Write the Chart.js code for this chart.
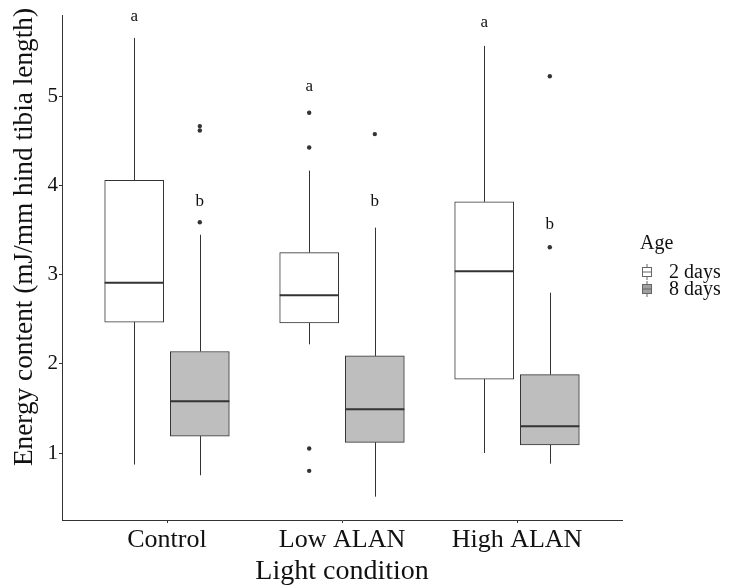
<!DOCTYPE html>
<html><head><meta charset="utf-8">
<script src="https://cdn.jsdelivr.net/npm/chart.js@4"></script>
<style>html,body{margin:0;padding:0;background:#fff}#wrap{width:732px;height:586px;position:relative}</style>
</head><body><div id="wrap"><canvas id="c" width="732" height="586"></canvas></div>
<script>
const categories = ['Control', 'Low ALAN', 'High ALAN'];
const ages = ['2 days', '8 days'];
const yTicks = [1, 2, 3, 4, 5];
const yTitle = 'Energy content (mJ/mm hind tibia length)';
const xTitle = 'Light condition';
const legendTitle = 'Age';

// Age: 2 days
const q1_2 = [2.47, 2.46, 1.83];
const median_2 = [2.91, 2.77, 3.04];
const q3_2 = [4.06, 3.25, 3.82];
const whiskerLow_2 = [0.87, 2.22, 1.00];
const whiskerHigh_2 = [5.66, 4.17, 5.57];
const outliers_2 = [[], [4.82, 4.43, 1.05, 0.80], []];
const letters_2 = ['a', 'a', 'a'];
const letterY_2 = [5.90, 5.11, 5.83];

// Age: 8 days
const q1_8 = [1.19, 1.12, 1.09];
const median_8 = [1.58, 1.49, 1.30];
const q3_8 = [2.14, 2.09, 1.88];
const whiskerLow_8 = [0.75, 0.51, 0.88];
const whiskerHigh_8 = [3.45, 3.53, 2.80];
const outliers_8 = [[4.67, 4.62, 3.59], [4.58], [5.23, 3.31]];
const letters_8 = ['b', 'b', 'b'];
const letterY_8 = [3.82, 3.82, 3.56];

const FONT = "'Liberation Serif', 'DejaVu Serif', serif";
const LINE = '#333333';
const FILL = ['#ffffff', '#bebebe'];
const DODGE = 0.1875;
const BOXW = 59;

const groups = [
  {q1: q1_2, med: median_2, q3: q3_2, lo: whiskerLow_2, hi: whiskerHigh_2, out: outliers_2, let: letters_2, letY: letterY_2, off: -DODGE},
  {q1: q1_8, med: median_8, q3: q3_8, lo: whiskerLow_8, hi: whiskerHigh_8, out: outliers_8, let: letters_8, letY: letterY_8, off: DODGE}
];

const datasets = [];
groups.forEach((g, gi) => {
  datasets.push({
    type: 'bar',
    label: ages[gi],
    data: categories.map((c, i) => ({x: i + 1 + g.off, y: [g.q1[i], g.q3[i]]})),
    backgroundColor: FILL[gi],
    borderColor: LINE,
    borderWidth: 1,
    borderSkipped: false,
    grouped: false,
    barThickness: BOXW,
    order: 2
  });
});
groups.forEach((g, gi) => {
  const pts = [];
  g.out.forEach((arr, i) => arr.forEach(v => pts.push({x: i + 1 + g.off, y: v})));
  datasets.push({
    type: 'scatter',
    label: ages[gi] + ' outliers',
    data: pts,
    pointRadius: 2.2,
    pointBackgroundColor: LINE,
    pointBorderWidth: 0,
    order: 1
  });
});

const boxPlugin = {
  id: 'boxParts',
  beforeDatasetsDraw(chart) {
    const ctx = chart.ctx, xs = chart.scales.x, ys = chart.scales.y;
    ctx.save();
    ctx.strokeStyle = LINE;
    ctx.lineWidth = 1;
    groups.forEach(g => {
      categories.forEach((c, i) => {
        const x = Math.round(xs.getPixelForValue(i + 1 + g.off)) + 0.5;
        ctx.beginPath();
        ctx.moveTo(x, ys.getPixelForValue(g.q3[i]));
        ctx.lineTo(x, ys.getPixelForValue(g.hi[i]));
        ctx.moveTo(x, ys.getPixelForValue(g.q1[i]));
        ctx.lineTo(x, ys.getPixelForValue(g.lo[i]));
        ctx.stroke();
      });
    });
    ctx.restore();
  },
  afterDatasetsDraw(chart) {
    const ctx = chart.ctx, xs = chart.scales.x, ys = chart.scales.y;
    ctx.save();
    ctx.strokeStyle = LINE;
    ctx.lineWidth = 2;
    const half = BOXW / 2;
    groups.forEach(g => {
      categories.forEach((c, i) => {
        const x = xs.getPixelForValue(i + 1 + g.off);
        const y = ys.getPixelForValue(g.med[i]);
        ctx.beginPath();
        ctx.moveTo(x - half, y);
        ctx.lineTo(x + half, y);
        ctx.stroke();
      });
    });
    // significance letters
    ctx.fillStyle = '#111';
    ctx.font = '17px ' + FONT;
    ctx.textAlign = 'center';
    ctx.textBaseline = 'middle';
    groups.forEach(g => {
      categories.forEach((c, i) => {
        ctx.fillText(g.let[i], xs.getPixelForValue(i + 1 + g.off), ys.getPixelForValue(g.letY[i]));
      });
    });
    // y axis title
    ctx.save();
    ctx.translate(25, 237);
    ctx.rotate(-Math.PI / 2);
    ctx.font = '27.3px ' + FONT;
    ctx.fillStyle = '#111';
    ctx.fillText(yTitle, 0, 0);
    ctx.restore();
    // legend
    ctx.textAlign = 'left';
    ctx.textBaseline = 'alphabetic';
    ctx.fillStyle = '#111';
    ctx.font = '20px ' + FONT;
    ctx.fillText(legendTitle, 640, 249);
    ctx.font = '20px ' + FONT;
    const keyTop = [264, 281];
    const baselines = [278, 295];
    ages.forEach((a, k) => {
      const t = keyTop[k];
      const x0 = 642.5, w = 9;
      ctx.strokeStyle = '#666';
      ctx.lineWidth = 1;
      ctx.fillStyle = k === 0 ? '#ffffff' : '#a0a0a0';
      ctx.fillRect(x0, t + 3.5, w, 9);
      ctx.strokeRect(x0, t + 3.5, w, 9);
      ctx.beginPath();
      ctx.moveTo(x0 + w / 2, t);
      ctx.lineTo(x0 + w / 2, t + 3.5);
      ctx.moveTo(x0 + w / 2, t + 12.5);
      ctx.lineTo(x0 + w / 2, t + 16);
      ctx.moveTo(x0, t + 8);
      ctx.lineTo(x0 + w, t + 8);
      ctx.stroke();
      ctx.fillStyle = '#111';
      ctx.fillText(a, 669, baselines[k]);
    });
    ctx.restore();
  }
};

new Chart(document.getElementById('c'), {
  data: {datasets},
  plugins: [boxPlugin],
  options: {
    responsive: false,
    animation: false,
    events: [],
    layout: {padding: {top: 15, right: 110, left: 0, bottom: 0}},
    plugins: {legend: {display: false}, tooltip: {enabled: false}},
    scales: {
      x: {
        type: 'linear',
        offset: false,
        min: 0.4, max: 3.6,
        afterBuildTicks: s => { s.ticks = categories.map((c, i) => ({value: i + 1})); },
        afterFit: s => { s.height = 66; },
        ticks: {
          callback: (v) => categories[Math.round(v) - 1],
          font: {family: FONT, size: 26},
          color: '#111',
          padding: 2,
          autoSkip: false,
          maxRotation: 0
        },
        grid: {offset: false, drawOnChartArea: false, drawTicks: true, tickLength: 3, color: LINE},
        border: {display: true, color: LINE, width: 1},
        title: {display: true, text: xTitle, font: {family: FONT, size: 28, lineHeight: 1.0}, color: '#111', padding: {top: 0, bottom: 0}}
      },
      y: {
        type: 'linear',
        min: 0.248, max: 5.917,
        afterBuildTicks: s => { s.ticks = yTicks.map(v => ({value: v})); },
        afterFit: s => { s.width = 62; },
        ticks: {font: {family: FONT, size: 21}, color: '#111', padding: 1},
        grid: {drawOnChartArea: false, drawTicks: true, tickLength: 3, color: LINE},
        border: {display: true, color: LINE, width: 1}
      }
    }
  }
});
</script></body></html>
